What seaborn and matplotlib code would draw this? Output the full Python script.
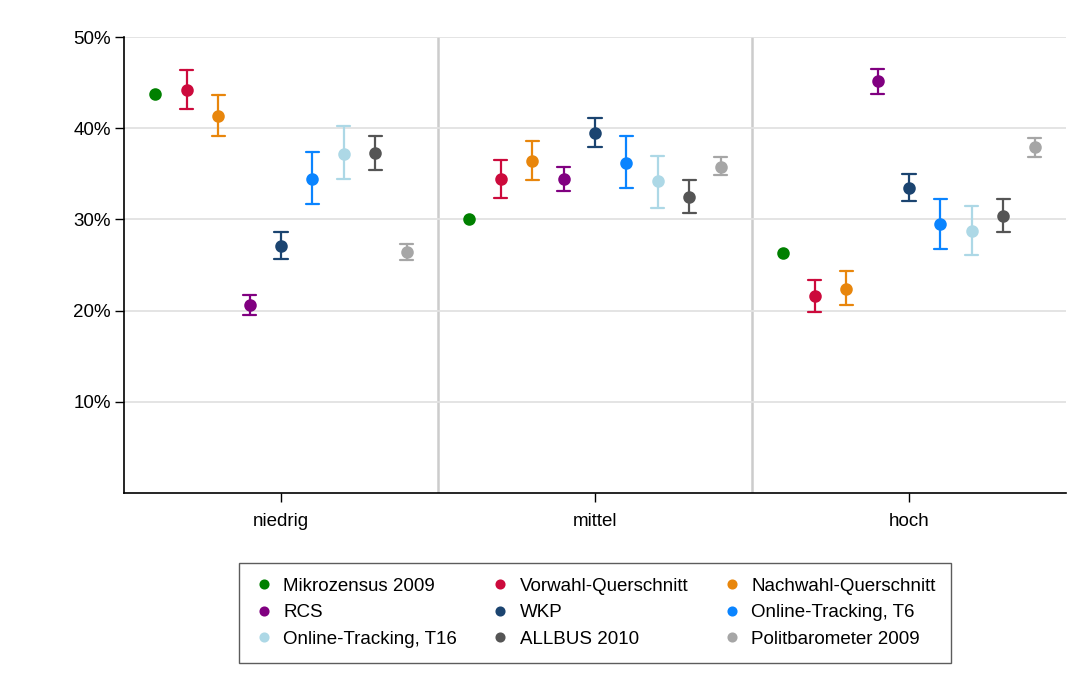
import matplotlib
matplotlib.use("Agg")
import matplotlib.pyplot as plt
import pandas as pd
import seaborn as sns
from matplotlib.ticker import PercentFormatter

groups = ["niedrig", "mittel", "hoch"]
series = [
    "Mikrozensus 2009", "Vorwahl-Querschnitt", "Nachwahl-Querschnitt",
    "RCS", "WKP", "Online-Tracking, T6",
    "Online-Tracking, T16", "ALLBUS 2010", "Politbarometer 2009",
]
colors = [
    "#008000", "#cc0a3c", "#e8860c",
    "#800080", "#1b4470", "#0a84ff",
    "#add8e6", "#555555", "#a6a6a6",
]

# share in percent, one row per series (niedrig, mittel, hoch)
point_est = [
    [43.8, 30.1, 26.3],
    [44.2, 34.4, 21.6],
    [41.3, 36.4, 22.4],
    [20.6, 34.4, 45.2],
    [27.1, 39.5, 33.5],
    [34.4, 36.2, 29.5],
    [37.2, 34.2, 28.7],
    [37.3, 32.5, 30.4],
    [26.4, 35.8, 37.9],
]
# confidence bounds; Mikrozensus has none
ci_low = [
    None,
    [42.1, 32.3, 19.8],
    [39.2, 34.3, 20.6],
    [19.5, 33.1, 43.8],
    [25.7, 37.9, 32.0],
    [31.7, 33.4, 26.8],
    [34.4, 31.3, 26.1],
    [35.4, 30.7, 28.6],
    [25.6, 34.9, 36.9],
]
ci_high = [
    None,
    [46.4, 36.5, 23.4],
    [43.6, 38.6, 24.3],
    [21.7, 35.7, 46.5],
    [28.6, 41.1, 35.0],
    [37.4, 39.1, 32.2],
    [40.2, 37.0, 31.5],
    [39.2, 34.3, 32.2],
    [27.3, 36.8, 38.9],
]

# long table: median of (low, est, high) is the estimate, min/max the interval
rows = []
for s, name in enumerate(series):
    for g, grp in enumerate(groups):
        rows.append((grp, name, point_est[s][g]))
        if ci_low[s] is not None:
            rows.append((grp, name, ci_low[s][g]))
            rows.append((grp, name, ci_high[s][g]))
df = pd.DataFrame(rows, columns=["group", "series", "value"])

sns.set_theme(style="white")
plt.rcParams["font.family"] = ["Liberation Sans", "DejaVu Sans"]
FS = 13.5

fig = plt.figure(figsize=(10.75, 6.86), dpi=100)
ax = fig.add_axes([0.1153, 0.2813, 0.8763, 0.6647])

ax.yaxis.grid(True, color="#e2e2e2", linewidth=1.3, zorder=0)
ax.set_axisbelow(True)
for sep in (0.5, 1.5):
    ax.axvline(sep, color="#cccccc", linewidth=1.8, zorder=0)

sns.pointplot(
    data=df, x="group", y="value", hue="series",
    order=groups, hue_order=series, palette=colors,
    estimator="median", errorbar=lambda v: (v.min(), v.max()),
    dodge=0.8, linestyle="none", markers="o", markersize=7,
    capsize=0.042, err_kws={"linewidth": 1.6}, ax=ax,
)

ax.set_xlim(-0.5, 2.5)
ax.set_ylim(0, 50)
ax.set_yticks([10, 20, 30, 40, 50])
ax.yaxis.set_major_formatter(PercentFormatter(xmax=100, decimals=0))
ax.set_xlabel("")
ax.set_ylabel("")
ax.tick_params(axis="both", which="major", direction="out", length=6.5,
               width=1, color="black", labelsize=FS, labelcolor="black",
               bottom=True, left=True)
ax.tick_params(axis="x", pad=8)
ax.tick_params(axis="y", pad=3)
for side in ("top", "right"):
    ax.spines[side].set_visible(False)
for side in ("left", "bottom"):
    ax.spines[side].set_color("black")
    ax.spines[side].set_linewidth(1.2)

handles, labels = ax.get_legend_handles_labels()
ax.get_legend().remove()
order = [0, 3, 6, 1, 4, 7, 2, 5, 8]
leg = fig.legend(
    [handles[i] for i in order], [labels[i] for i in order],
    ncol=3, loc="upper center", bbox_to_anchor=(0.5535, 0.1936),
    frameon=True, fancybox=False, fontsize=FS, labelcolor="black",
    handlelength=1.0, handletextpad=0.55, columnspacing=1.8,
    labelspacing=0.5, borderpad=0.8, markerscale=0.75,
)
leg.get_frame().set_edgecolor("#333333")
leg.get_frame().set_linewidth(1.0)

fig.savefig("out.png", dpi=100)
